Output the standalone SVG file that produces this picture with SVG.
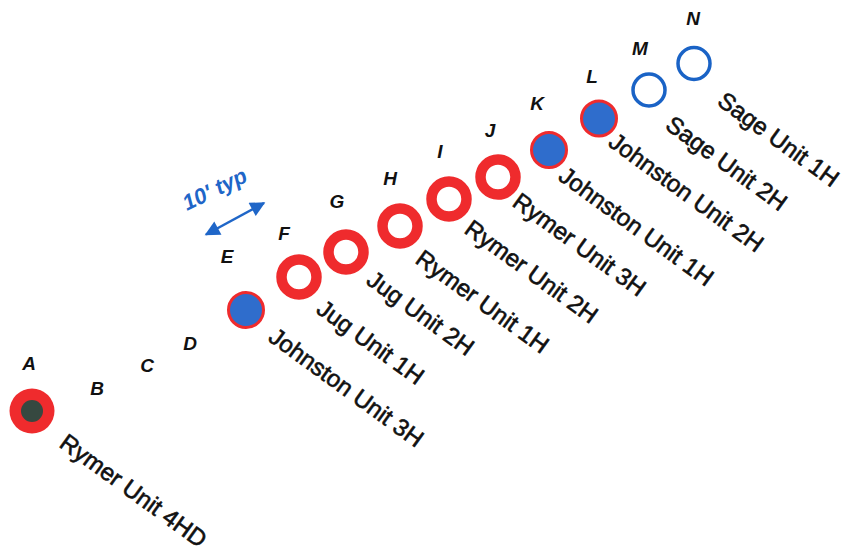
<svg xmlns="http://www.w3.org/2000/svg" width="847" height="552" viewBox="0 0 847 552">
<style>
.ltr{font-family:"Liberation Sans",Arial,sans-serif;font-style:italic;font-weight:bold;font-size:19px;fill:#111;text-anchor:middle}
.lbl{font-family:"Liberation Sans",Arial,sans-serif;font-size:24px;fill:#111;stroke:#111;stroke-width:0.6}
.ring{fill:none;stroke:#ef2b2d;stroke-width:10.5}
.jo{fill:#2f6dcc;stroke:#ef2b2d;stroke-width:3}
.sage{fill:none;stroke:#1a63c6;stroke-width:3.5}
.dim{font-family:"Liberation Sans",Arial,sans-serif;font-style:italic;font-weight:bold;font-size:22px;fill:#1f66c8}
</style>
<defs>
<marker id="ah" viewBox="0 0 10 10" refX="9" refY="5" markerWidth="6.5" markerHeight="6" orient="auto-start-reverse" markerUnits="strokeWidth">
<path d="M0,0 L10,5 L0,10 Z" fill="#1f66c8"/>
</marker>
</defs>
<rect width="847" height="552" fill="#fff"/>
<g id="connectors">
<line x1="206" y1="234.5" x2="264" y2="203" stroke="#1f66c8" stroke-width="2.5" marker-start="url(#ah)" marker-end="url(#ah)"/>
<text class="dim" transform="translate(187,211) rotate(-26)">10' typ</text>
</g>
<g id="A"><text class="ltr" x="29" y="370">A</text><circle cx="32" cy="411" r="22.5" fill="#ef2b2d"/><circle cx="32" cy="411" r="11" fill="#364840"/><text class="lbl" transform="translate(58,446) rotate(36)">Rymer Unit 4HD</text></g>
<g id="B"><text class="ltr" x="97" y="395">B</text></g>
<g id="C"><text class="ltr" x="147" y="372">C</text></g>
<g id="D"><text class="ltr" x="190" y="350">D</text></g>
<g id="E"><text class="ltr" x="227" y="263">E</text><circle cx="246" cy="310" r="17.5" class="jo"/><text class="lbl" transform="translate(267,340) rotate(36)">Johnston Unit 3H</text></g>
<g id="F"><text class="ltr" x="284" y="240">F</text><circle cx="299" cy="277" r="17.5" class="ring"/><text class="lbl" transform="translate(315,312) rotate(36)">Jug Unit 1H</text></g>
<g id="G"><text class="ltr" x="337" y="208">G</text><circle cx="346" cy="252" r="17.5" class="ring"/><text class="lbl" transform="translate(365,283) rotate(36)">Jug Unit 2H</text></g>
<g id="H"><text class="ltr" x="390" y="185">H</text><circle cx="400" cy="226" r="17.5" class="ring"/><text class="lbl" transform="translate(414,262) rotate(36)">Rymer Unit 1H</text></g>
<g id="I"><text class="ltr" x="440" y="158">I</text><circle cx="449" cy="199" r="17.5" class="ring"/><text class="lbl" transform="translate(463,232) rotate(36)">Rymer Unit 2H</text></g>
<g id="J"><text class="ltr" x="490" y="137">J</text><circle cx="498" cy="177" r="17.5" class="ring"/><text class="lbl" transform="translate(511,205) rotate(36)">Rymer Unit 3H</text></g>
<g id="K"><text class="ltr" x="537" y="110">K</text><circle cx="549" cy="150" r="17.5" class="jo"/><text class="lbl" transform="translate(557,179) rotate(36)">Johnston Unit 1H</text></g>
<g id="L"><text class="ltr" x="592" y="83">L</text><circle cx="599" cy="118.5" r="17.5" class="jo"/><text class="lbl" transform="translate(607,145) rotate(36)">Johnston Unit 2H</text></g>
<g id="M"><text class="ltr" x="640" y="55">M</text><circle cx="649" cy="90" r="16" class="sage"/><text class="lbl" transform="translate(664,128) rotate(36)">Sage Unit 2H</text></g>
<g id="N"><text class="ltr" x="693" y="25">N</text><circle cx="694" cy="63.5" r="16" class="sage"/><text class="lbl" transform="translate(716,104) rotate(36)" font-size="22">Sage Unit 1H</text></g>
</svg>
